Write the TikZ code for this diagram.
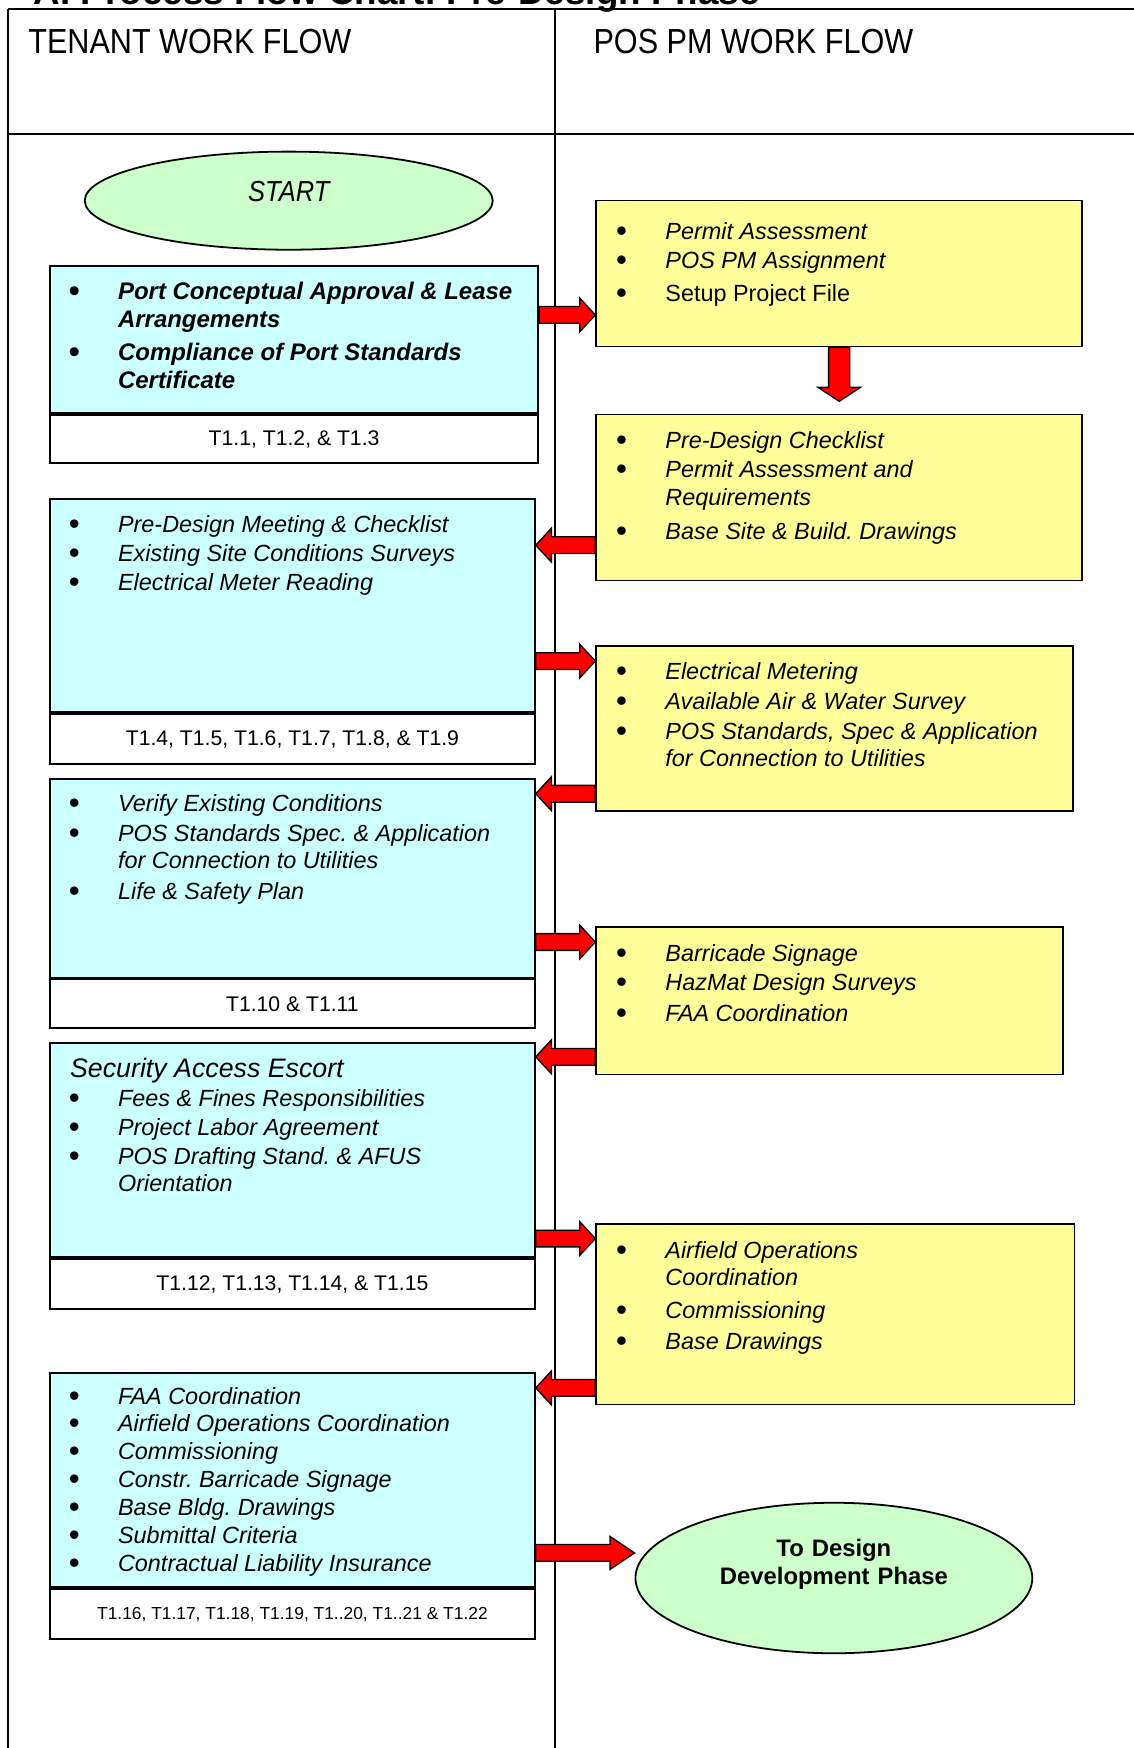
\documentclass[tikz,border=0pt]{standalone}
\usepackage{fontspec}
\setmainfont{Liberation Sans}
\newfontfamily\narrowsans{Liberation Sans}[FakeStretch=0.88]
\usetikzlibrary{shapes.geometric,calc}

\definecolor{tenantcyan}{HTML}{CCFFFF}
\definecolor{pmyellow}{HTML}{FFFF99}
\definecolor{ovalgreen}{HTML}{CCFFCC}

\frenchspacing
\newcommand{\bu}{\makebox[21.5pt][l]{\upshape\raisebox{-0.9pt}{\fontsize{14}{14}\selectfont\hspace{-0.6pt}\textbullet}}}
% block arrow: shaft half width, head half width, head length, from, to
\newcommand{\barrow}[5]{%
  \coordinate (ba) at (#4);
  \coordinate (bb) at (#5);
  \coordinate (bh) at ($(bb)!#3!(ba)$);
  \filldraw[fill=red, draw=black, line width=0.6pt]
    ($(ba)!#1!90:(bb)$) -- ($(bh)!#1!90:(bb)$) -- ($(bh)!#2!90:(bb)$) -- (bb)
    -- ($(bh)!#2!-90:(bb)$) -- ($(bh)!#1!-90:(bb)$) -- ($(ba)!#1!-90:(bb)$) -- cycle;
}
\newcommand{\rightflow}[3]{\path (0,#3) coordinate (fy); \barrow{3.75pt}{7.6pt}{7pt}{#1.east |- fy}{#2.west |- fy}}
\newcommand{\leftflow}[3]{\path (0,#3) coordinate (fy); \barrow{3.75pt}{7.6pt}{7pt}{#1.west |- fy}{#2.east |- fy}}

\tikzset{
  tableline/.style={line width=0.7pt},
  tenant/.style={draw, line width=0.8pt, fill=tenantcyan, anchor=north west, inner sep=0pt, minimum width=217.5pt},
  pospm/.style={draw, line width=0.8pt, fill=pmyellow, anchor=north west, inner sep=0pt},
  refbox/.style={draw, line width=0.8pt, fill=white, anchor=north west, inner sep=0pt, minimum width=217.5pt,
    font=\fontsize{9.5}{11}\selectfont},
  items/.style={anchor=base west, inner sep=0pt},
  oval/.style={ellipse, draw, line width=0.8pt, fill=ovalgreen, inner sep=0pt},
  header/.style={anchor=base west, inner sep=0pt, font=\narrowsans\fontsize{15.6}{18}\selectfont}
}

\begin{document}
\begin{tikzpicture}[x=0.5pt, y=-0.5pt]
\useasboundingbox (0,0) rectangle (1017,1568);
\clip (0,0) rectangle (1017,1568);

% table
\draw[tableline] (7,8) -- (1020,8);
\draw[tableline] (7,120) -- (1020,120);
\draw[tableline] (7,8) -- (7,1570);
\draw[tableline] (498,8) -- (498,1570);

\node[anchor=base west, inner sep=0pt, font=\bfseries\fontsize{16.5}{18}\selectfont] (title) at (30,3.6) {A. Process Flow Chart: Pre-Design Phase};
\node[header] (tenanthead) at (25,47.8) {TENANT WORK FLOW};
\node[header] (pmhead) at (532,47.8) {POS PM WORK FLOW};

% tenant column
\node[oval, minimum width=183pt, minimum height=44pt, text height=10pt, text depth=9pt,
  font=\narrowsans\itshape\fontsize{13}{15}\selectfont] (start) at (259,180) {START};

\node[tenant, minimum width=219pt, minimum height=66pt] (t1) at (44,238) {};
\node[refbox, minimum width=219pt, minimum height=21.5pt] (t1ref) at (t1.south west) {T1.1, T1.2, \& T1.3};
\node[items, font=\bfseries\itshape\fontsize{10.75}{12.75}\selectfont] (t1txt) at ([shift={(18.5,30.5)}]t1.north west)
  {\begin{tabular}[t]{@{}l@{}l@{}}
   \bu & Port Conceptual Approval \& Lease\\
       & Arrangements\\[1.75pt]
   \bu & Compliance of Port Standards\\
       & Certificate
   \end{tabular}};

\node[tenant, minimum height=95.5pt] (t2) at (44,447) {};
\node[refbox, minimum height=22.5pt] (t2ref) at (t2.south west) {T1.4, T1.5, T1.6, T1.7, T1.8, \& T1.9};
\node[items, font=\itshape\fontsize{10.5}{13}\selectfont] (t2txt) at ([shift={(18.5,30.5)}]t2.north west)
  {\begin{tabular}[t]{@{}l@{}l@{}}
   \bu & Pre-Design Meeting \& Checklist\\
   \bu & Existing Site Conditions Surveys\\
   \bu & Electrical Meter Reading
   \end{tabular}};

\node[tenant, minimum height=89pt] (t3) at (44,698) {};
\node[refbox, minimum height=22pt] (t3ref) at (t3.south west) {T1.10 \& T1.11};
\node[items, font=\itshape\fontsize{10.5}{12.5}\selectfont] (t3txt) at ([shift={(18.5,29.5)}]t3.north west)
  {\begin{tabular}[t]{@{}l@{}l@{}}
   \bu & Verify Existing Conditions\\[1pt]
   \bu & POS Standards Spec. \& Application\\
       & for Connection to Utilities\\[1pt]
   \bu & Life \& Safety Plan
   \end{tabular}};

\node[tenant, minimum height=96pt] (t4) at (44,935) {};
\node[refbox, minimum height=22.5pt] (t4ref) at (t4.south west) {T1.12, T1.13, T1.14, \& T1.15};
\node[items, font=\itshape\fontsize{10.5}{13}\selectfont] (t4txt) at ([shift={(18.5,31.5)}]t4.north west)
  {\begin{tabular}[t]{@{}l@{}l@{}}
   \multicolumn{2}{@{}l@{}}{\fontsize{12}{14}\selectfont Security Access Escort}\\
   \bu & Fees \& Fines Responsibilities\\
   \bu & Project Labor Agreement\\
   \bu & POS Drafting Stand. \& AFUS\\[-1pt]
       & Orientation
   \end{tabular}};

\node[tenant, minimum height=96pt] (t5) at (44,1231) {};
\node[refbox, minimum height=22.5pt, font=\fontsize{7.8}{10}\selectfont] (t5ref) at (t5.south west) {T1.16, T1.17, T1.18, T1.19, T1..20, T1..21 \& T1.22};
\node[items, font=\itshape\fontsize{10.5}{12.5}\selectfont] (t5txt) at ([shift={(18.5,28.5)}]t5.north west)
  {\begin{tabular}[t]{@{}l@{}l@{}}
   \bu & FAA Coordination\\
   \bu & Airfield Operations Coordination\\
   \bu & Commissioning\\
   \bu & Constr. Barricade Signage\\
   \bu & Base Bldg. Drawings\\
   \bu & Submittal Criteria\\
   \bu & Contractual Liability Insurance
   \end{tabular}};

% POS PM column
\node[pospm, minimum width=218pt, minimum height=65.5pt] (a1) at (534,179) {};
\node[items, font=\itshape\fontsize{10.5}{13}\selectfont] (a1txt) at ([shift={(19.5,35.5)}]a1.north west)
  {\begin{tabular}[t]{@{}l@{}l@{}}
   \bu & Permit Assessment\\
   \bu & POS PM Assignment\\[2pt]
   \bu & \upshape Setup Project File
   \end{tabular}};

\node[pospm, minimum width=218pt, minimum height=74.5pt] (a2) at (534,371) {};
\node[items, font=\itshape\fontsize{10.5}{12.75}\selectfont] (a2txt) at ([shift={(19.5,31.5)}]a2.north west)
  {\begin{tabular}[t]{@{}l@{}l@{}}
   \bu & Pre-Design Checklist\\
   \bu & Permit Assessment and\\
       & Requirements\\[2.25pt]
   \bu & Base Site \& Build. Drawings
   \end{tabular}};

\node[pospm, minimum width=214pt, minimum height=74pt] (a3) at (534,579) {};
\node[items, font=\itshape\fontsize{10.5}{13.5}\selectfont] (a3txt) at ([shift={(19.5,30.5)}]a3.north west)
  {\begin{tabular}[t]{@{}l@{}l@{}}
   \bu & Electrical Metering\\
   \bu & Available Air \& Water Survey\\
   \bu & POS Standards, Spec \& Application\\[-1.5pt]
       & for Connection to Utilities
   \end{tabular}};

\node[pospm, minimum width=209.5pt, minimum height=66pt] (a4) at (534,831) {};
\node[items, font=\itshape\fontsize{10.5}{13}\selectfont] (a4txt) at ([shift={(19.5,31.5)}]a4.north west)
  {\begin{tabular}[t]{@{}l@{}l@{}}
   \bu & Barricade Signage\\
   \bu & HazMat Design Surveys\\[1pt]
   \bu & FAA Coordination
   \end{tabular}};

\node[pospm, minimum width=214.5pt, minimum height=81pt] (a5) at (534,1097) {};
\node[items, font=\itshape\fontsize{10.5}{12.5}\selectfont] (a5txt) at ([shift={(19.5,31.5)}]a5.north west)
  {\begin{tabular}[t]{@{}l@{}l@{}}
   \bu & Airfield Operations\\
       & Coordination\\[2pt]
   \bu & Commissioning\\[1.5pt]
   \bu & Base Drawings
   \end{tabular}};

\node[oval, minimum width=178pt, minimum height=67.5pt] (done) at (748,1415.5) {};
\node[anchor=base, inner sep=0pt, text width=120pt, align=center, font=\bfseries\fontsize{10.7}{12.5}\selectfont] (donetxt) at (748,1396) {To Design\\Development Phase};

% flow arrows
\rightflow{t1}{a1}{282.5}
\path (0,360) coordinate (dtip);
\barrow{4.75pt}{9.5pt}{6.25pt}{a1.south}{a1.south |- dtip}
\leftflow{a2}{t2}{489}
\rightflow{t2}{a3}{593}
\leftflow{a3}{t3}{712}
\rightflow{t3}{a4}{845}
\leftflow{a4}{t4}{948}
\rightflow{t4}{a5}{1111}
\leftflow{a5}{t5}{1245}
\path (0,1393) coordinate (fy);
\barrow{3.75pt}{7.4pt}{11pt}{t5.east |- fy}{done.west |- fy}
\end{tikzpicture}
\end{document}
